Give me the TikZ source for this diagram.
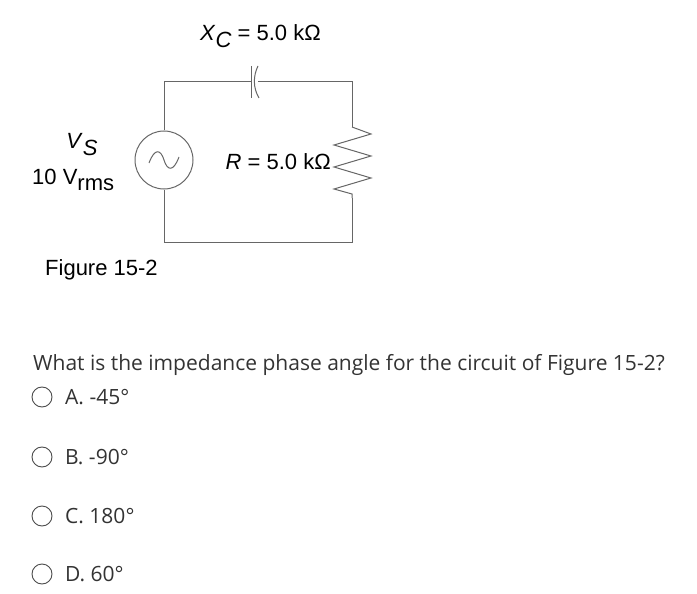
\documentclass[tikz,border=0pt]{standalone}
\usepackage{fontspec}
\setmainfont{Liberation Sans}
\newfontfamily\qfont{Open Sans}
\begin{document}
\begin{tikzpicture}[x=1pt,y=-1pt,
  wire/.style={draw=black!60,line width=1pt},
  lbl/.style={inner sep=0pt,font=\fontsize{22}{26}\selectfont},
  qtxt/.style={inner sep=0pt,anchor=west,font=\qfont\fontsize{21}{25}\selectfont,text=black!80},
  radio/.style={circle,draw=black!70,line width=0.9pt,minimum size=20pt,inner sep=0pt}]
\useasboundingbox (0,0) rectangle (697,594);
\coordinate (tl) at (164,82); \coordinate (tr) at (352,82);
\coordinate (bl) at (164,242); \coordinate (br) at (352,242);
\node[circle,wire,minimum size=58pt,inner sep=0pt] (src) at (164,160) {};
\coordinate (c1) at (251,82); \coordinate (c2) at (258,82);
\coordinate (r1) at (352,127); \coordinate (r2) at (352,198);
\draw[wire] (src.north) -- (tl) -- (c1);
\draw[wire] (c2) -- (tr) -- (r1);
\draw[wire] (r1) -- (371,134) -- (334,145) -- (371,156) -- (334,167) -- (371,178) -- (334,189) -- (352,194) -- (r2);
\draw[wire] (r2) -- (br) -- (bl) -- (src.south);
\draw[wire] (251,66) -- (251,98);
\draw[wire] (258,66) .. controls (253,76) and (253,88) .. (259,98);
\draw[wire] (149,163) .. controls (155,147) and (161,150) .. (164,160) .. controls (167,170) and (173,173) .. (179,157);
\node[lbl,anchor=west] (xc) at (200,36) {\textit{X}\raisebox{-7pt}{\textit{C}} = 5.0 kΩ};
\node[lbl] (vs) at (82,145) {\textit{V}\raisebox{-7pt}{\textit{S}}};
\node[lbl,anchor=west] (vrms) at (32,180) {10 V\raisebox{-6pt}{rms}};
\node[lbl,anchor=east] (rl) at (331,162) {\textit{R} = 5.0 kΩ};
\node[lbl,anchor=west] (fig) at (45,270) {Figure 15-2};
\node[qtxt] (q) at (33,365) {What is the impedance phase angle for the circuit of Figure 15-2?};
\node[radio] (ra) at (42,397) {}; \node[qtxt] (ta) at (65,397) {A. -45°};
\node[radio] (rb) at (42,457) {}; \node[qtxt] (tb) at (65,457) {B. -90°};
\node[radio] (rc) at (42,516) {}; \node[qtxt] (tc) at (65,516) {C. 180°};
\node[radio] (rd) at (42,574) {}; \node[qtxt] (td) at (65,574) {D. 60°};
\end{tikzpicture}
\end{document}
